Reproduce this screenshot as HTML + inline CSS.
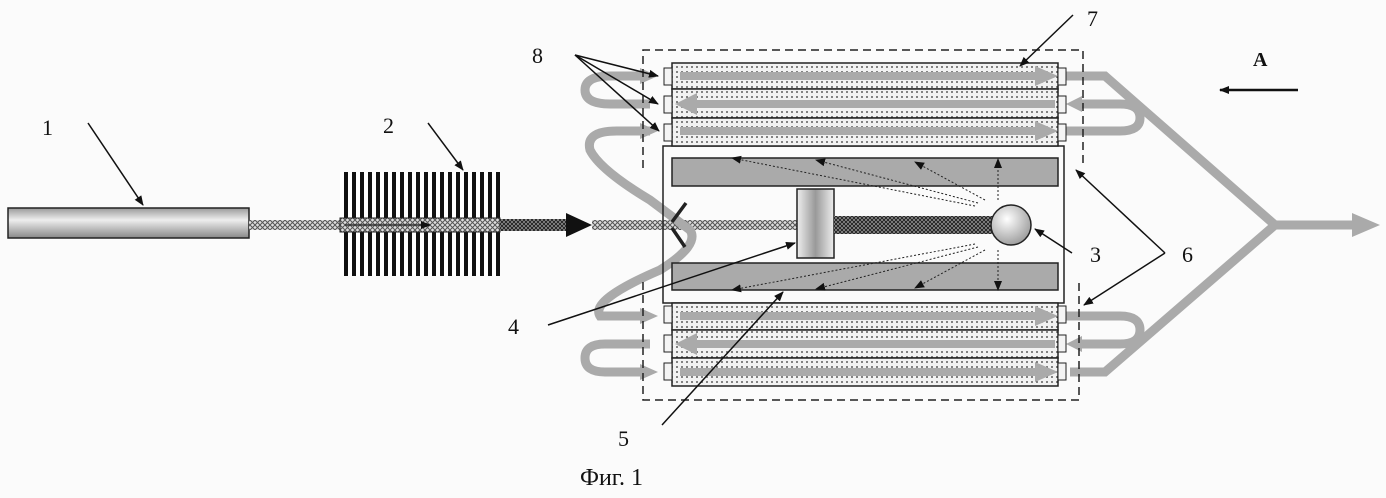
<!DOCTYPE html>
<html><head><meta charset="utf-8"><style>
html,body{margin:0;padding:0;background:#fbfbfb}
svg{display:block}
text{font-family:"Liberation Serif",serif;fill:#111}
</style></head><body>
<svg width="1386" height="498" viewBox="0 0 1386 498" xmlns="http://www.w3.org/2000/svg">
<defs>
<pattern id="dots" width="5" height="5" patternUnits="userSpaceOnUse"><rect width="5" height="5" fill="#f2f2f2"/><circle cx="2" cy="2" r="0.9" fill="#333"/></pattern>
<pattern id="hatch" width="5" height="5" patternUnits="userSpaceOnUse"><rect width="5" height="5" fill="#ddd"/><path d="M0 0L5 5M5 0L0 5" stroke="#555" stroke-width="1"/></pattern>
<pattern id="hatch2" width="4" height="4" patternUnits="userSpaceOnUse"><rect width="4" height="4" fill="#999"/><path d="M0 0L4 4M4 0L0 4" stroke="#222" stroke-width="1"/></pattern>
<pattern id="stripes" width="8" height="8" patternUnits="userSpaceOnUse"><rect width="8" height="8" fill="#fff"/><rect width="4" height="8" fill="#111"/></pattern>
<linearGradient id="rod" x1="0" y1="0" x2="0" y2="1"><stop offset="0" stop-color="#999"/><stop offset=".4" stop-color="#eee"/><stop offset="1" stop-color="#888"/></linearGradient>
<linearGradient id="blk" x1="0" y1="0" x2="1" y2="0"><stop offset="0" stop-color="#eee"/><stop offset=".5" stop-color="#999"/><stop offset="1" stop-color="#eee"/></linearGradient>
<radialGradient id="ball" cx=".4" cy=".35" r=".7"><stop offset="0" stop-color="#fff"/><stop offset="1" stop-color="#999"/></radialGradient>
<marker id="ah" markerWidth="10" markerHeight="8" refX="9" refY="4" orient="auto" markerUnits="userSpaceOnUse"><path d="M0 0L10 4L0 8z" fill="#111"/></marker>
</defs>

<rect x="8" y="208" width="241" height="30" fill="url(#rod)" stroke="#222" stroke-width="1.5"/>
<rect x="249" y="220" width="92" height="10" fill="url(#hatch)"/>
<rect x="340" y="172" width="160" height="104" fill="url(#stripes)"/>
<rect x="340" y="218" width="160" height="14" fill="url(#hatch)" stroke="#222"/>
<line x1="345" y1="225" x2="430" y2="225" stroke="#333" stroke-width="1.5" marker-end="url(#ah)"/>
<rect x="500" y="219" width="70" height="12" fill="url(#hatch2)"/>
<path d="M566 213L592 225L566 237z" fill="#111"/>
<rect x="592" y="220" width="205" height="10" fill="url(#hatch)"/>

<g fill="none" stroke="#aaa" stroke-width="9">
<path d="M650 104H610Q585 104 585 90Q585 76 610 76H640"/>
<path d="M650 131H620Q585 130 590 150Q600 170 650 200L690 230Q700 245 660 270Q590 300 600 316H640"/>
<path d="M650 344H605Q585 344 585 358Q585 372 605 372H640"/>
<path d="M1066 76H1105L1275 225L1105 372H1070"/>
<path d="M1066 131H1120Q1140 131 1140 118Q1140 104 1120 104H1078"/>
<path d="M1066 316H1120Q1140 316 1140 330Q1140 344 1120 344H1078"/>
<path d="M1275 225H1352"/>
</g>
<path d="M640 68L658 76L640 84z M640 123L658 131L640 139z M640 308L658 316L640 324z M640 364L658 372L640 380z" fill="#aaa"/>
<path d="M1082 96L1066 104L1082 112z M1082 336L1066 344L1082 352z M1352 213L1380 225L1352 237z" fill="#aaa"/>

<path d="M643 168V50H1083V168" fill="none" stroke="#222" stroke-width="1.5" stroke-dasharray="8,5"/>
<path d="M643 282V400H1079V282" fill="none" stroke="#222" stroke-width="1.5" stroke-dasharray="8,5"/>
<rect x="663" y="146" width="401" height="157" fill="none" stroke="#222" stroke-width="1.5"/>

<g stroke="#222" stroke-width="1.5">
<rect x="672" y="63" width="386" height="26" fill="url(#dots)"/>
<rect x="672" y="89" width="386" height="29" fill="url(#dots)"/>
<rect x="672" y="118" width="386" height="28" fill="url(#dots)"/>
<rect x="672" y="303" width="386" height="27" fill="url(#dots)"/>
<rect x="672" y="330" width="386" height="28" fill="url(#dots)"/>
<rect x="672" y="358" width="386" height="28" fill="url(#dots)"/>
<g fill="#f4f4f4" stroke-width="1">
<rect x="664" y="68" width="8" height="17"/><rect x="664" y="96" width="8" height="17"/><rect x="664" y="124" width="8" height="17"/>
<rect x="1058" y="68" width="8" height="17"/><rect x="1058" y="96" width="8" height="17"/><rect x="1058" y="124" width="8" height="17"/>
<rect x="664" y="306" width="8" height="17"/><rect x="664" y="335" width="8" height="17"/><rect x="664" y="363" width="8" height="17"/>
<rect x="1058" y="306" width="8" height="17"/><rect x="1058" y="335" width="8" height="17"/><rect x="1058" y="363" width="8" height="17"/>
</g>
</g>
<g fill="#aaa">
<path d="M680 72H1035V66L1058 76L1035 86V80H680z"/>
<path d="M1055 100H697V93L675 104L697 115V108H1055z"/>
<path d="M680 127H1035V121L1058 131L1035 141V135H680z"/>
<path d="M680 312H1035V306L1058 316L1035 326V320H680z"/>
<path d="M1055 340H697V333L675 344L697 355V348H1055z"/>
<path d="M680 368H1035V362L1058 372L1035 382V376H680z"/>
</g>
<rect x="672" y="158" width="386" height="28" fill="#aaa" stroke="#222" stroke-width="1.5"/>
<rect x="672" y="263" width="386" height="27" fill="#aaa" stroke="#222" stroke-width="1.5"/>

<path d="M686 203L672 222M672 228L685 247" stroke="#222" stroke-width="3.5"/>
<rect x="797" y="189" width="37" height="69" fill="url(#blk)" stroke="#222" stroke-width="1.5"/>
<rect x="834" y="216" width="160" height="18" fill="url(#hatch2)"/>
<circle cx="1011" cy="225" r="20" fill="url(#ball)" stroke="#222" stroke-width="1.5"/>
<g stroke="#222" stroke-width="1" stroke-dasharray="2,2" fill="none" marker-end="url(#ah)">
<line x1="975" y1="206" x2="732" y2="158"/>
<line x1="978" y1="203" x2="816" y2="160"/>
<line x1="985" y1="200" x2="915" y2="162"/>
<line x1="998" y1="200" x2="998" y2="159"/>
<line x1="975" y1="244" x2="732" y2="290"/>
<line x1="978" y1="247" x2="816" y2="289"/>
<line x1="985" y1="250" x2="915" y2="288"/>
<line x1="998" y1="250" x2="998" y2="290"/>
</g>

<g stroke="#111" stroke-width="1.5" fill="none" marker-end="url(#ah)">
<line x1="88" y1="123" x2="143" y2="205"/>
<line x1="428" y1="123" x2="463" y2="170"/>
<line x1="1073" y1="15" x2="1020" y2="66"/>
<line x1="575" y1="55" x2="658" y2="76"/>
<line x1="575" y1="55" x2="658" y2="104"/>
<line x1="575" y1="55" x2="659" y2="131"/>
<line x1="1072" y1="253" x2="1035" y2="229"/>
<line x1="1165" y1="253" x2="1076" y2="170"/>
<line x1="1165" y1="253" x2="1084" y2="305"/>
<line x1="548" y1="325" x2="795" y2="243"/>
<line x1="662" y1="425" x2="783" y2="292"/>
</g>
<line x1="1298" y1="90" x2="1220" y2="90" stroke="#111" stroke-width="2.5" marker-end="url(#ah)"/>

<text x="42" y="135" font-size="22">1</text>
<text x="383" y="133" font-size="22">2</text>
<text x="1087" y="26" font-size="22">7</text>
<text x="532" y="63" font-size="22">8</text>
<text x="1253" y="66" font-size="20" font-weight="bold">A</text>
<text x="1090" y="262" font-size="22">3</text>
<text x="1182" y="262" font-size="22">6</text>
<text x="508" y="334" font-size="22">4</text>
<text x="618" y="446" font-size="22">5</text>
<text x="580" y="485" font-size="24">Фиг. 1</text>
</svg>
</body></html>
